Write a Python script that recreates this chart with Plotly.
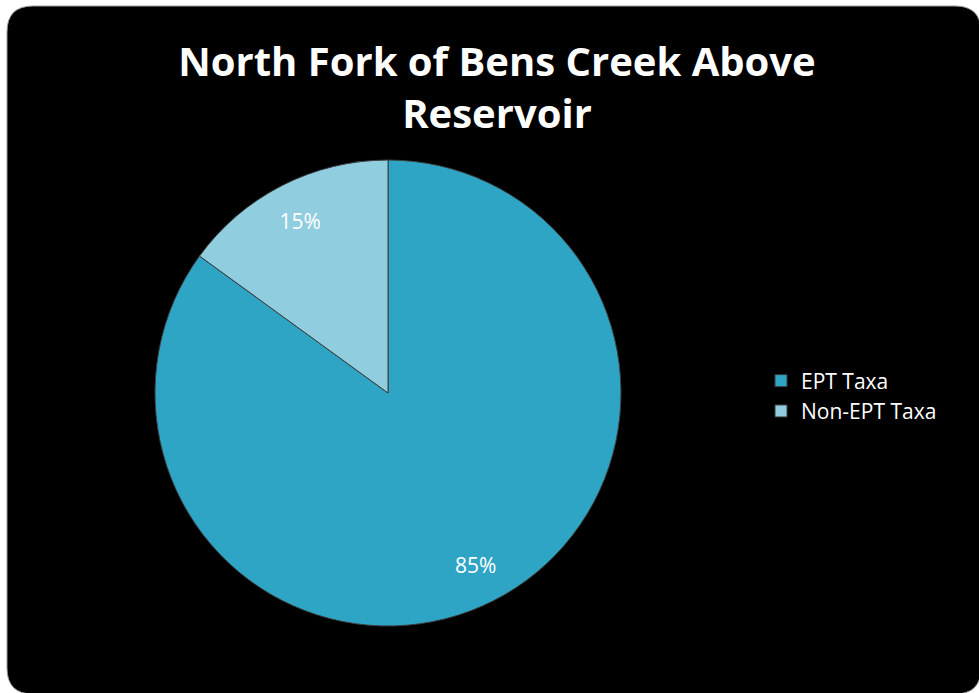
import plotly.graph_objects as go

labels = ["EPT Taxa", "Non-EPT Taxa"]
values = [85, 15]
colors = ["#2FA5C6", "#90CDDF"]
title_text = "North Fork of Bens Creek Above<br>Reservoir"

W, H = 979, 693

def px(x):
    return x / W

def py(y):
    return 1 - y / H

# rounded rectangle background
x0, x1, y0, y1, r = 7, 981, 6, 694, 26
rx, ry = r / W, r / H
path = (
    f"M {px(x0)+rx},{py(y0)} L {px(x1)-rx},{py(y0)} Q {px(x1)},{py(y0)} {px(x1)},{py(y0)-ry} "
    f"L {px(x1)},{py(y1)+ry} Q {px(x1)},{py(y1)} {px(x1)-rx},{py(y1)} "
    f"L {px(x0)+rx},{py(y1)} Q {px(x0)},{py(y1)} {px(x0)},{py(y1)+ry} "
    f"L {px(x0)},{py(y0)-ry} Q {px(x0)},{py(y0)} {px(x0)+rx},{py(y0)} Z"
)

cx, cy, R = 388, 393, 233
domain = dict(x=[px(cx - R), px(cx + R)], y=[py(cy + R), py(cy - R)])
font_family = "Open Sans, Lato, sans-serif"

pie = go.Pie(
    labels=labels,
    values=values,
    sort=False,
    direction="clockwise",
    rotation=0,
    marker=dict(colors=colors, line=dict(color="#3c3c3c", width=1)),
    textinfo="none",
    domain=domain,
    hoverinfo="label+percent",
)

# transparent ring carrying the percentage labels near the rim
ring = go.Pie(
    labels=labels,
    values=values,
    sort=False,
    direction="clockwise",
    rotation=0,
    hole=0.66,
    marker=dict(colors=["rgba(0,0,0,0)"] * len(values), line=dict(width=0)),
    textinfo="percent",
    textposition="inside",
    insidetextorientation="horizontal",
    textfont=dict(family=font_family, size=21, color="white"),
    domain=domain,
    showlegend=False,
    hoverinfo="skip",
)

fig = go.Figure([pie, ring])

fig.update_layout(
    width=W, height=H,
    margin=dict(l=0, r=0, t=0, b=0),
    paper_bgcolor="white",
    plot_bgcolor="rgba(0,0,0,0)",
    shapes=[dict(type="path", path=path, xref="paper", yref="paper",
                 fillcolor="black", line=dict(color="#9a9a9a", width=1), layer="below")],
    title=dict(text=title_text, x=px(497), xanchor="center", y=py(76), yanchor="middle",
               font=dict(family=font_family, size=40, color="white", weight="bold")),
    legend=dict(x=px(761), y=py(396), xanchor="left", yanchor="middle",
                font=dict(family=font_family, size=21, color="white"),
                bgcolor="rgba(0,0,0,0)"),
    showlegend=True,
)

fig.write_html("out.html", config={"displayModeBar": False},
               post_script="document.body.style.margin='0';document.body.style.overflow='hidden';")
